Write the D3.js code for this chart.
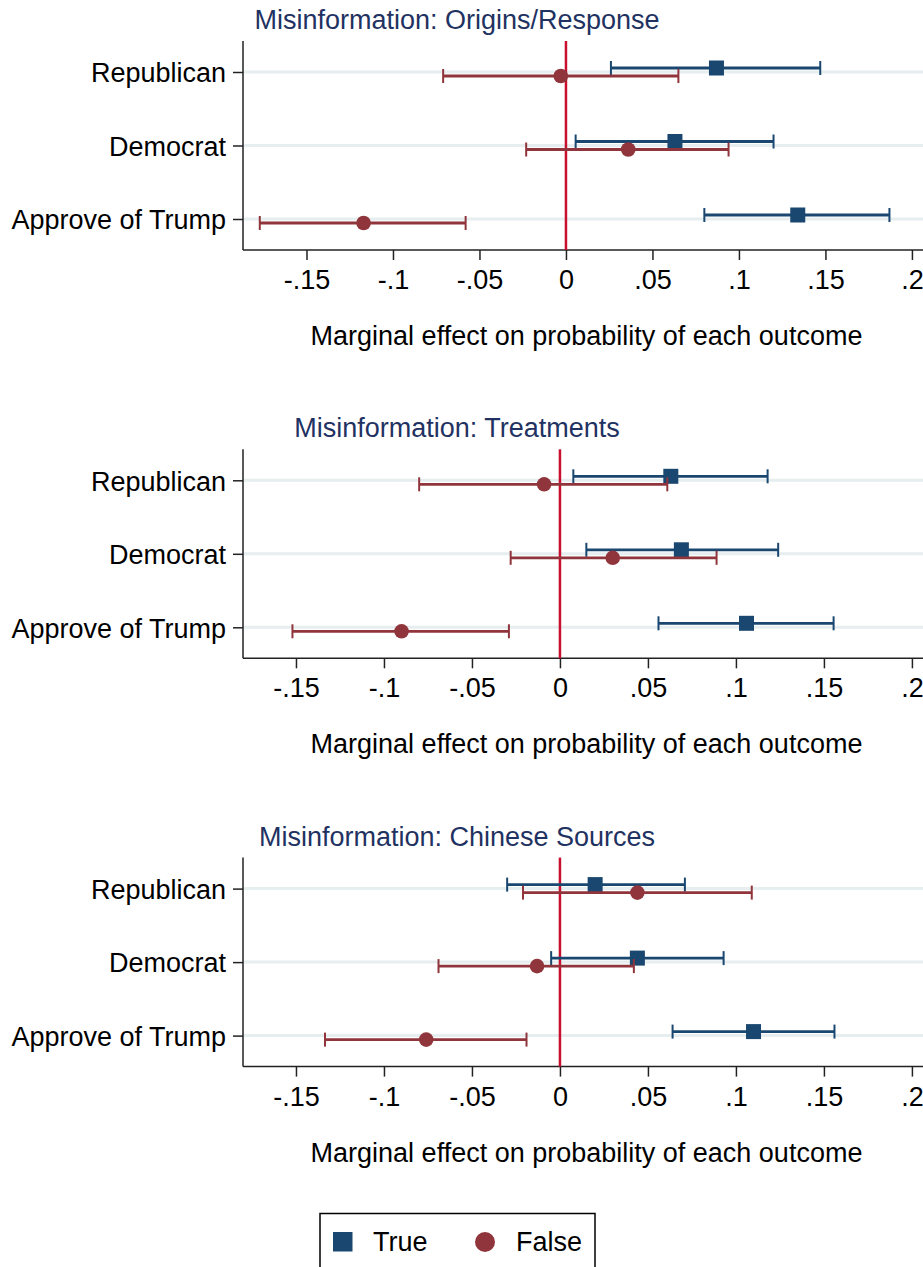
<!DOCTYPE html>
<html>
<head>
<meta charset="utf-8">
<script src="https://cdn.jsdelivr.net/npm/d3@7"></script>
<style>
  html, body { margin: 0; padding: 0; background: #fff; }
  svg { display: block; }
  text { font-family: "Liberation Sans", Arial, Helvetica, sans-serif; }
</style>
</head>
<body>
<svg id="chart" width="923" height="1267"></svg>
<script>
// ---------- data ----------
const categories = ["Republican", "Democrat", "Approve of Trump"];
const panelTitles = [
  "Misinformation: Origins/Response",
  "Misinformation: Treatments",
  "Misinformation: Chinese Sources"
];
const seriesNames = ["True", "False"];
const tickValues = [-0.15, -0.1, -0.05, 0, 0.05, 0.1, 0.15, 0.2];
const tickLabels = ["-.15", "-.1", "-.05", "0", ".05", ".1", ".15", ".2"];
const axisTitle = "Marginal effect on probability of each outcome";

// Panel 1: Origins/Response
const originsTrue    = [0.087, 0.063, 0.134];
const originsTrueLo  = [0.026, 0.0056, 0.080];
const originsTrueHi  = [0.147, 0.120, 0.187];
const originsFalse   = [-0.003, 0.036, -0.117];
const originsFalseLo = [-0.071, -0.023, -0.177];
const originsFalseHi = [0.065, 0.094, -0.058];

// Panel 2: Treatments
const treatTrue    = [0.063, 0.069, 0.106];
const treatTrueLo  = [0.0076, 0.015, 0.056];
const treatTrueHi  = [0.118, 0.124, 0.1555];
const treatFalse   = [-0.009, 0.030, -0.090];
const treatFalseLo = [-0.080, -0.028, -0.152];
const treatFalseHi = [0.061, 0.089, -0.029];

// Panel 3: Chinese Sources
const chinaTrue    = [0.020, 0.044, 0.110];
const chinaTrueLo  = [-0.030, -0.005, 0.064];
const chinaTrueHi  = [0.071, 0.093, 0.156];
const chinaFalse   = [0.044, -0.013, -0.076];
const chinaFalseLo = [-0.021, -0.069, -0.1335];
const chinaFalseHi = [0.109, 0.042, -0.019];

// x-axis domains per panel (as visible in the figure)
const panelDomains = [[-0.1867, 0.2064], [-0.1801, 0.2063], [-0.1801, 0.2063]];

// ---------- build ----------
const panels = [
  {title: panelTitles[0], T: [originsTrue, originsTrueLo, originsTrueHi], F: [originsFalse, originsFalseLo, originsFalseHi]},
  {title: panelTitles[1], T: [treatTrue, treatTrueLo, treatTrueHi], F: [treatFalse, treatFalseLo, treatFalseHi]},
  {title: panelTitles[2], T: [chinaTrue, chinaTrueLo, chinaTrueHi], F: [chinaFalse, chinaFalseLo, chinaFalseHi]}
];

const colTrue = "#1a476f", colFalse = "#90353b", colZero = "#c8102e";
const colGrid = "#e6eef0", colTitle = "#1f3262";
const fontSize = 27;

const svg = d3.select("#chart");
const left = 243, right = 923;

panels.forEach((p, i) => {
  const bottom = 250 + i * 408.3;
  const top = bottom - 209;
  const g = svg.append("g");

  const x = d3.scaleLinear().domain(panelDomains[i]).range([left, right]);
  const y = d3.scalePoint().domain(categories).range([bottom - 178, bottom - 31]);

  // title
  g.append("text")
    .attr("x", 457).attr("y", top - 12)
    .attr("text-anchor", "middle")
    .attr("fill", colTitle)
    .style("font-size", fontSize + "px")
    .text(p.title);

  // gridlines
  g.selectAll("line.grid").data(categories).join("line")
    .attr("class", "grid")
    .attr("x1", left).attr("x2", right)
    .attr("y1", d => y(d)).attr("y2", d => y(d))
    .attr("stroke", colGrid).attr("stroke-width", 3);

  // y axis
  const yAxis = d3.axisLeft(y).tickSize(10).tickPadding(7);
  const gy = g.append("g").attr("transform", `translate(${left},0)`).call(yAxis);
  gy.select(".domain").remove();
  g.append("line").attr("x1", left).attr("x2", left).attr("y1", top).attr("y2", bottom)
    .attr("stroke", "#222").attr("stroke-width", 1.5);
  gy.selectAll(".tick line").attr("stroke", "#222").attr("stroke-width", 1.5);
  gy.selectAll(".tick text").style("font-size", fontSize + "px").attr("fill", "#000").attr("dy", "0.36em");

  // x axis
  const xAxis = d3.axisBottom(x).tickValues(tickValues).tickFormat((d, k) => tickLabels[k]).tickSize(10).tickPadding(10);
  const gx = g.append("g").attr("transform", `translate(0,${bottom})`).call(xAxis);
  gx.select(".domain").remove();
  g.append("line").attr("x1", left).attr("x2", right).attr("y1", bottom).attr("y2", bottom)
    .attr("stroke", "#222").attr("stroke-width", 1.5);
  gx.selectAll(".tick line").attr("stroke", "#222").attr("stroke-width", 1.5);
  gx.selectAll(".tick text").style("font-size", fontSize + "px").attr("fill", "#000");

  // axis title
  g.append("text")
    .attr("x", (left + 930) / 2).attr("y", bottom + 95)
    .attr("text-anchor", "middle")
    .attr("fill", "#000")
    .style("font-size", fontSize + "px")
    .text(axisTitle);

  // zero line
  g.append("line")
    .attr("x1", x(0)).attr("x2", x(0))
    .attr("y1", top).attr("y2", bottom)
    .attr("stroke", colZero).attr("stroke-width", 2.5);

  // series
  const series = [
    {vals: p.T, color: colTrue, off: -4, shape: "square"},
    {vals: p.F, color: colFalse, off: 4, shape: "circle"}
  ];
  series.forEach(s => {
    const rows = categories.map((c, k) => ({c, est: s.vals[0][k], lo: s.vals[1][k], hi: s.vals[2][k]}));
    const sg = g.append("g");
    sg.selectAll("line.ci").data(rows).join("line")
      .attr("x1", d => x(d.lo)).attr("x2", d => x(d.hi))
      .attr("y1", d => y(d.c) + s.off).attr("y2", d => y(d.c) + s.off)
      .attr("stroke", s.color).attr("stroke-width", 2.8);
    ["lo", "hi"].forEach(key => {
      sg.selectAll("line.cap" + key).data(rows).join("line")
        .attr("x1", d => x(d[key])).attr("x2", d => x(d[key]))
        .attr("y1", d => y(d.c) + s.off - 7).attr("y2", d => y(d.c) + s.off + 7)
        .attr("stroke", s.color).attr("stroke-width", 2);
    });
    if (s.shape === "square") {
      sg.selectAll("rect").data(rows).join("rect")
        .attr("x", d => x(d.est) - 7.5).attr("y", d => y(d.c) + s.off - 7.5)
        .attr("width", 15).attr("height", 15).attr("fill", s.color);
    } else {
      sg.selectAll("circle").data(rows).join("circle")
        .attr("cx", d => x(d.est)).attr("cy", d => y(d.c) + s.off)
        .attr("r", 7.3).attr("fill", s.color);
    }
  });
});

// legend
const lg = svg.append("g");
lg.append("rect").attr("x", 320).attr("y", 1213.5).attr("width", 275).attr("height", 70)
  .attr("fill", "#fff").attr("stroke", "#000").attr("stroke-width", 1.5);
lg.append("rect").attr("x", 333).attr("y", 1232).attr("width", 19.5).attr("height", 19.5).attr("fill", colTrue);
lg.append("text").attr("x", 373).attr("y", 1251).style("font-size", fontSize + "px").attr("fill", "#000").text(seriesNames[0]);
lg.append("circle").attr("cx", 485).attr("cy", 1242).attr("r", 10).attr("fill", colFalse);
lg.append("text").attr("x", 516).attr("y", 1251).style("font-size", fontSize + "px").attr("fill", "#000").text(seriesNames[1]);
</script>
</body>
</html>
